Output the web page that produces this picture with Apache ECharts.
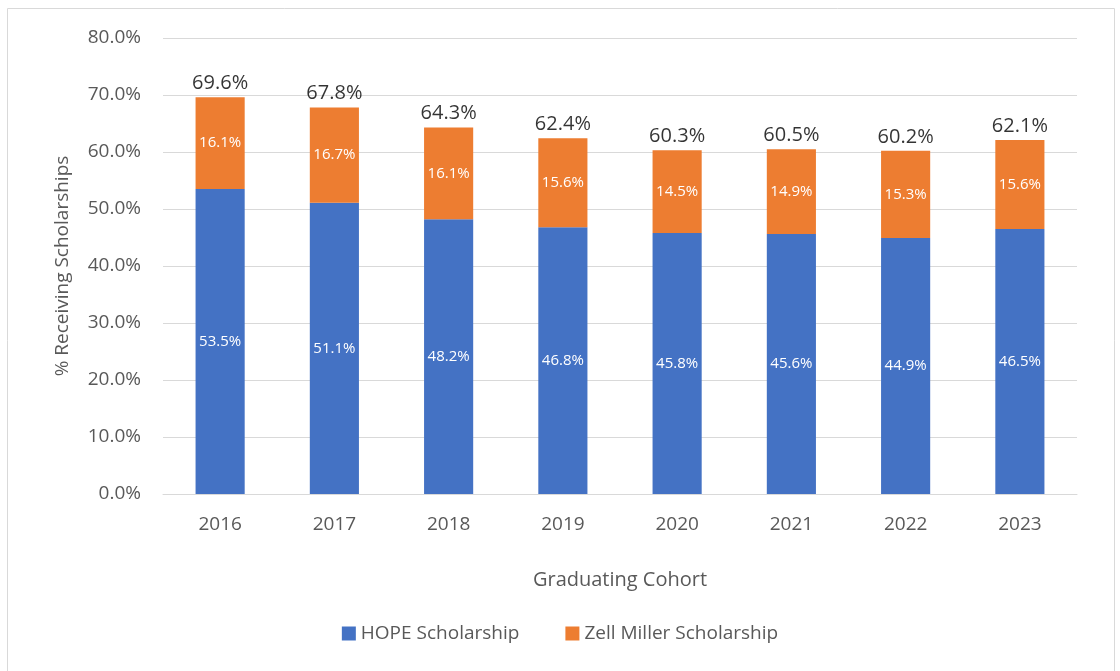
<!DOCTYPE html>
<html>
<head>
<meta charset="utf-8">
<script src="https://cdn.jsdelivr.net/npm/echarts@6/dist/echarts.min.js"></script>
<style>
  html, body { margin: 0; padding: 0; background: #fff; }
  #chart { width: 1120px; height: 671px; }
</style>
</head>
<body>
<div id="chart"></div>
<script type="text/javascript">
    // data
    var years = ['2016', '2017', '2018', '2019', '2020', '2021', '2022', '2023'];
    var hope = [53.5, 51.1, 48.2, 46.8, 45.8, 45.6, 44.9, 46.5];
    var zell = [16.1, 16.7, 16.1, 15.6, 14.5, 14.9, 15.3, 15.6];
    var totals = [69.6, 67.8, 64.3, 62.4, 60.3, 60.5, 60.2, 62.1];

    var font = '"Open Sans", "Liberation Sans", sans-serif';
    var myChart = echarts.init(document.getElementById('chart'));

    var option = {
        animation: false,
        textStyle: { fontFamily: font },
        graphic: [{
            type: 'rect',
            shape: { x: 7.5, y: 8.5, width: 1107, height: 680 },
            style: { fill: 'none', stroke: '#d9d9d9', lineWidth: 1 },
            z: -10
        }],
        legend: {
            data: ['HOPE Scholarship', 'Zell Miller Scholarship'],
            bottom: 23,
            left: 'center',
            itemWidth: 14,
            itemHeight: 14,
            itemGap: 46,
            icon: 'rect',
            textStyle: { fontFamily: font, fontSize: 19, color: '#595959' }
        },
        grid: {
            left: 163,
            right: 43,
            top: 38,
            bottom: 177
        },
        xAxis: {
            type: 'category',
            data: years,
            name: 'Graduating Cohort',
            nameLocation: 'middle',
            nameGap: 76,
            nameTextStyle: { fontFamily: font, fontSize: 20, color: '#595959' },
            axisLine: { lineStyle: { color: '#d9d9d9' } },
            axisTick: { show: false },
            axisLabel: { fontFamily: font, fontSize: 19, color: '#595959', margin: 21 }
        },
        yAxis: {
            type: 'value',
            min: 0,
            max: 80,
            interval: 10,
            name: '% Receiving Scholarships',
            nameLocation: 'middle',
            nameGap: 91,
            nameTextStyle: { fontFamily: font, fontSize: 19, color: '#595959' },
            axisLine: { show: false },
            axisTick: { show: false },
            axisLabel: {
                fontFamily: font, fontSize: 19, color: '#595959', margin: 22,
                formatter: function (v) { return v.toFixed(1) + '%'; }
            },
            splitLine: { lineStyle: { color: '#d9d9d9' } }
        },
        series: [
            {
                name: 'HOPE Scholarship',
                type: 'bar',
                stack: 'total',
                barWidth: '43%',
                itemStyle: { color: '#4472C4' },
                label: {
                    show: true, position: 'inside', color: '#fff',
                    fontFamily: font, fontSize: 15,
                    formatter: function (p) { return p.value.toFixed(1) + '%'; }
                },
                data: hope
            },
            {
                name: 'Zell Miller Scholarship',
                type: 'bar',
                stack: 'total',
                itemStyle: { color: '#ED7D31' },
                label: {
                    show: true, position: 'inside', color: '#fff',
                    fontFamily: font, fontSize: 15,
                    formatter: function (p) { return p.value.toFixed(1) + '%'; }
                },
                data: zell
            },
            {
                name: 'Total',
                type: 'scatter',
                symbolSize: 0,
                silent: true,
                label: {
                    show: true, position: 'top', distance: 4, color: '#000',
                    fontFamily: font, fontSize: 20,
                    formatter: function (p) { return p.value.toFixed(1) + '%'; }
                },
                data: totals
            }
        ]
    };
    myChart.setOption(option);
</script>
</body>
</html>
